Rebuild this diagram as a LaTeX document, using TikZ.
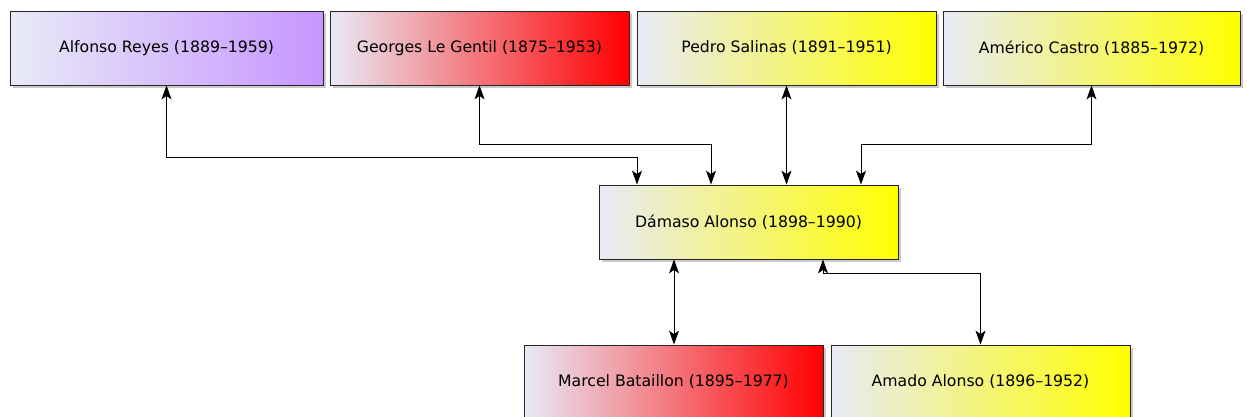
\documentclass[tikz,border=0pt]{standalone}
\usepackage{fontspec}
\setmainfont{DejaVu Sans}
\usetikzlibrary{arrows.meta,shadows,shadings}
\definecolor{startc}{RGB}{232,234,246}
\definecolor{purp}{RGB}{198,150,255}
\definecolor{redc}{RGB}{255,0,0}
\definecolor{yel}{RGB}{255,255,0}
\tikzset{
  box/.style={draw=black!85, line width=0.8pt, inner sep=0pt, minimum height=74pt,
    shading=axis, shading angle=90, left color=startc,
    drop shadow={shadow xshift=2.5pt, shadow yshift=-3pt, opacity=0.35, fill=black!60},
    font=\fontsize{15.7}{18}\selectfont},
  link/.style={line width=1pt, {Stealth[length=14pt,width=10pt,inset=3.5pt]}-{Stealth[length=14pt,width=10pt,inset=3.5pt]}},
}
\begin{document}
\begin{tikzpicture}[x=1pt,y=-1pt]
\useasboundingbox (0,0) rectangle (1247,416);
\clip (0,0) rectangle (1247,416);
\node[box, minimum width=313pt, right color=purp] (ar) at (166.5,48) {Alfonso Reyes (1889–1959)};
\node[box, minimum width=299pt, right color=redc] (gl) at (479.5,48) {Georges Le Gentil (1875–1953)};
\node[box, minimum width=299pt, right color=yel] (ps) at (786.5,48) {Pedro Salinas (1891–1951)};
\node[box, minimum width=297pt, right color=yel] (ac) at (1091.5,48) {Américo Castro (1885–1972)};
\node[box, minimum width=299pt, right color=yel] (da) at (748.5,222) {Dámaso Alonso (1898–1990)};
\node[box, minimum width=299pt, right color=redc] (mb) at (673.5,382) {Marcel Bataillon (1895–1977)};
\node[box, minimum width=299pt, right color=yel] (aa) at (980.5,382) {Amado Alonso (1896–1952)};
\coordinate (d1) at ([xshift=-111.5pt]da.north);
\coordinate (d2) at ([xshift=-37.5pt]da.north);
\coordinate (d4) at ([xshift=112.5pt]da.north);
\coordinate (b1) at ([xshift=-74.5pt]da.south);
\coordinate (b2) at ([xshift=74.5pt]da.south);
\draw[link] (ar.south) |- (d1 |- 0,157) -- (d1);
\draw[link] (gl.south) |- (d2 |- 0,144) -- (d2);
\draw[link] (ps.south) -- (ps.south |- da.north);
\draw[link] (ac.south) |- (d4 |- 0,144) -- (d4);
\draw[link] (b1) -- (b1 |- mb.north);
\draw[link] (b2) |- (aa.north |- 0,273) -- (aa.north);
\end{tikzpicture}
\end{document}
